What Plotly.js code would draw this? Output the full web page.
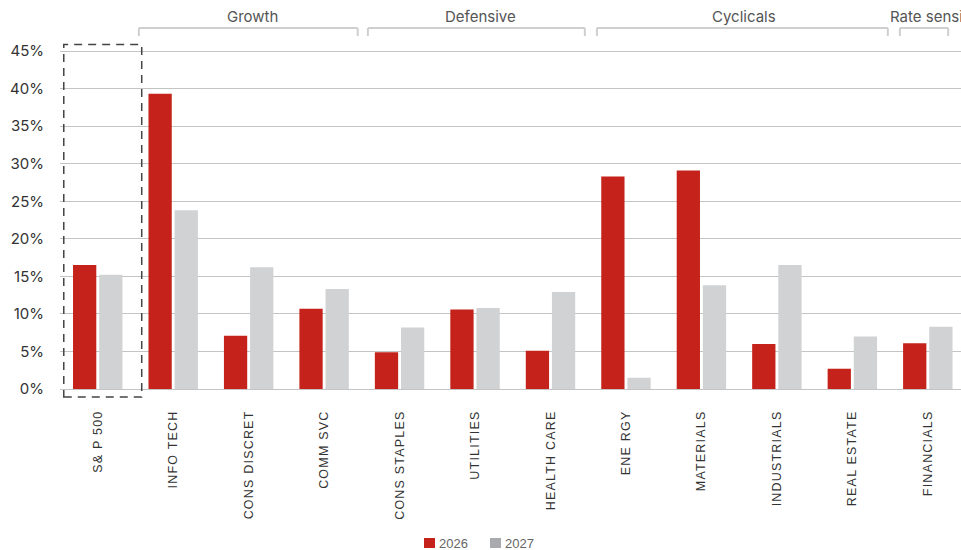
<!DOCTYPE html>
<html>
<head>
<meta charset="utf-8">
<script src="https://cdn.plot.ly/plotly-3.0.1.min.js"></script>
<style>
  html, body { margin: 0; padding: 0; background: #fff; }
  #chart { width: 961px; height: 550px; }
  .xtick text { letter-spacing: 1.2px; }
</style>
</head>
<body>
<div id="chart"></div>
<script>
// Sector earnings growth estimates, 2026 vs 2027 (%)
const sectors = ["S& P 500", "INFO TECH", "CONS DISCRET", "COMM SVC", "CONS STAPLES", "UTILITIES",
                 "HEALTH CARE", "ENE RGY", "MATERIALS", "INDUSTRIALS", "REAL ESTATE", "FINANCIALS"];
const growth2026 = [16.5, 39.3, 7.1, 10.7, 4.9, 10.6, 5.1, 28.3, 29.1, 6.0, 2.7, 6.1];
const growth2027 = [15.2, 23.8, 16.2, 13.3, 8.2, 10.8, 12.9, 1.5, 13.8, 16.5, 7.0, 8.3];
const seriesNames = ["2026", "2027"];

// Sector groupings: label and first/last sector index
const groupNames = ["Growth", "Defensive", "Cyclicals", "Rate sensitive"];
const groupFirst = [1, 4, 7, 11];
const groupLast  = [3, 6, 10, 11];

// ---- styling ----
const RED = "#C4221A";
const GREY = "#D1D2D4";
const LEGEND_GREY = "#A9AAAD";
const W = 961, H = 550;
const M = { l: 60, r: 0, t: 43, b: 151 };
const plotW = W - M.l - M.r, plotH = H - M.t - M.b;
const px2paperX = px => (px - M.l) / plotW;
const px2paperY = py => (H - M.b - py) / plotH;

const traces = [
  { type: "bar", name: seriesNames[0], x: sectors, y: growth2026,
    marker: { color: RED }, hoverinfo: "x+y" },
  { type: "bar", name: seriesNames[1], x: sectors, y: growth2027,
    marker: { color: GREY }, hoverinfo: "x+y" }
];

const shapes = [];
const annotations = [];

// dashed frame around the index column
shapes.push({
  type: "rect", xref: "x", yref: "paper", layer: "above",
  x0: -0.45, x1: 0.583, y0: px2paperY(397), y1: px2paperY(44.5),
  line: { color: "#444", width: 1.5, dash: "8px,6px" }, fillcolor: "rgba(0,0,0,0)"
});

// brackets above each sector group
const bracketTop = px2paperY(28), bracketBot = px2paperY(36);
const bracketInsetL = [0.045, 0.08, 0.115, 0.13];
const bracketInsetR = [0.055, 0.045, 0.03, 0.23];
const labelShift = [0.06, 0.05, 0.02, 0];
const bracketLine = { color: "#CFCFCF", width: 2 };
groupNames.forEach((name, i) => {
  const x0 = groupFirst[i] - 0.5 + bracketInsetL[i];
  const x1 = groupLast[i] + 0.5 - bracketInsetR[i];
  shapes.push({ type: "line", xref: "x", yref: "paper", x0: x0, x1: x1, y0: bracketTop, y1: bracketTop, line: bracketLine });
  shapes.push({ type: "line", xref: "x", yref: "paper", x0: x0, x1: x0, y0: bracketTop, y1: bracketBot, line: bracketLine });
  shapes.push({ type: "line", xref: "x", yref: "paper", x0: x1, x1: x1, y0: bracketTop, y1: bracketBot, line: bracketLine });
  const last = i === groupNames.length - 1;
  annotations.push({
    xref: "x", yref: "paper",
    x: last ? x0 - 0.16 : (x0 + x1) / 2 + labelShift[i],
    xanchor: last ? "left" : "center",
    y: px2paperY(16), yanchor: "middle",
    text: name, showarrow: false,
    font: { family: "Inter, 'Open Sans', sans-serif", size: 15, color: "#555" }
  });
});

// legend
const legendItems = [
  { name: seriesNames[0], color: RED, x: 424 },
  { name: seriesNames[1], color: LEGEND_GREY, x: 490 }
];
legendItems.forEach(it => {
  shapes.push({
    type: "rect", xref: "paper", yref: "paper",
    x0: px2paperX(it.x), x1: px2paperX(it.x + 11),
    y0: px2paperY(548), y1: px2paperY(538),
    line: { width: 0 }, fillcolor: it.color
  });
  annotations.push({
    xref: "paper", yref: "paper", x: px2paperX(it.x + 13), xanchor: "left",
    y: px2paperY(543), yanchor: "middle", text: it.name, showarrow: false,
    font: { family: "'Liberation Sans', Arial, sans-serif", size: 13, color: "#666" }
  });
});

const layout = {
  width: W, height: H,
  margin: { l: M.l, r: M.r, t: M.t, b: M.b, pad: 0 },
  paper_bgcolor: "#fff", plot_bgcolor: "#fff",
  barmode: "group", bargap: 0.307, bargroupgap: 0.11,
  showlegend: false,
  xaxis: {
    type: "category", range: [-0.5, 11.44], fixedrange: true,
    tickangle: -90, ticks: "", showgrid: false, zeroline: false, showline: false,
    ticklabelstandoff: 8,
    tickfont: { family: "'Liberation Sans', Arial, sans-serif", size: 12.5, color: "#333" }
  },
  yaxis: {
    range: [-1.33, 46.07], tick0: 0, dtick: 5, ticksuffix: "%", fixedrange: true,
    showgrid: true, gridcolor: "#C4C4C4", gridwidth: 1, zeroline: false, showline: false,
    ticks: "", ticklabelstandoff: 15,
    tickfont: { family: "Inter, 'Open Sans', sans-serif", size: 15, color: "#333" }
  },
  shapes: shapes,
  annotations: annotations
};

Plotly.newPlot("chart", traces, layout, { displayModeBar: false, staticPlot: true });
</script>
</body>
</html>
